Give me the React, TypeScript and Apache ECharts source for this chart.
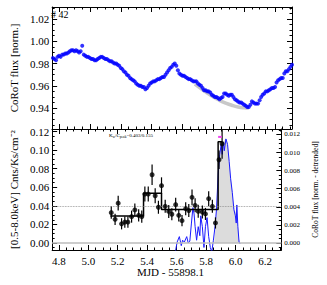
import React, { useEffect, useRef } from "react";
import * as echarts from "echarts";

// ---------- axis ranges / ticks ----------
const X_MIN = 4.755;
const X_MAX = 6.31;
const xMajor = [4.8, 5.0, 5.2, 5.4, 5.6, 5.8, 6.0, 6.2];
const yTopMajor = [0.94, 0.96, 0.98, 1.0, 1.02];
const yBotMajor = [0, 0.02, 0.04, 0.06, 0.08, 0.1, 0.12];
const yRightMajor = [0, 0.002, 0.004, 0.006, 0.008, 0.01, 0.012];

// ---------- top panel: CoRoT light curve (cadence start/step in MJD-55898.1) ----------
const topT0 = 4.76;
const topStep = 0.01;
const topFlux = [
  0.985, 0.984, 0.983, 0.986, 0.987, 0.986, 0.988, 0.988, 0.989, 0.989,
  0.990, 0.991, 0.992, 0.992, 0.991, 0.992, 0.991, 0.990, 0.991, 0.996,
  0.988, 0.987, 0.986, 0.986, 0.985, 0.984, 0.984, 0.983, 0.983, 0.984,
  0.985, 0.986, 0.986, 0.985, 0.984, 0.984, 0.983, 0.982, 0.982, 0.981,
  0.980, 0.980, 0.979, 0.978, 0.976, 0.975, 0.973, 0.972, 0.970, 0.969,
  0.967, 0.966, 0.965, 0.964, 0.962, 0.961, 0.960, 0.960, 0.959, 0.959,
  0.957, 0.958, 0.960, 0.962, 0.963, 0.964, 0.964, 0.965, 0.966, 0.966,
  0.967, 0.968, 0.968, 0.970, 0.972, 0.974, 0.976, 0.977, 0.979, 0.980,
  0.978, 0.974, 0.971, 0.970, 0.969, 0.969, 0.968, 0.967, 0.966, 0.966,
  0.965, 0.964, 0.964, 0.964, 0.962, 0.961, 0.960, 0.958, 0.956, 0.956,
  0.955, 0.955, 0.954, 0.952, 0.951, 0.950, 0.950, 0.949, 0.948, 0.949,
  0.950, 0.953, 0.953, 0.952, 0.951, 0.952, 0.952, 0.950, 0.948, 0.947,
  0.946, 0.945, 0.945, 0.944, 0.943, 0.942, 0.941, 0.941, 0.943, 0.946,
  0.945, 0.944, 0.944, 0.944, 0.947, 0.950, 0.952, 0.953, 0.955, 0.955,
  0.956, 0.957, 0.958, 0.958, 0.959, 0.963, 0.965, 0.966, 0.967, 0.967,
  0.971, 0.973, 0.973, 0.975, 0.977, 0.979,
];
// grey trend (baseline) under the flare
const trendX = [5.68, 5.72, 5.76, 5.8, 5.84, 5.88, 5.92, 5.96, 6.0, 6.03];
const trendY = [0.9615, 0.9575, 0.9535, 0.95, 0.947, 0.9445, 0.9425, 0.941, 0.9402, 0.94];

// ---------- bottom panel: X-ray light curve ----------
const xrayX = [5.156, 5.182, 5.203, 5.226, 5.248, 5.269, 5.294, 5.316, 5.342, 5.363,
  5.384, 5.407, 5.433, 5.454, 5.476, 5.497, 5.522, 5.546, 5.567, 5.593,
  5.614, 5.636, 5.661, 5.682, 5.704, 5.725, 5.746, 5.774, 5.795, 5.817,
  5.842, 5.863, 5.887, 5.908];
const xrayRate = [0.0327, 0.0255, 0.0429, 0.0207, 0.0225, 0.0225, 0.0284, 0.0356, 0.0298, 0.0284,
  0.0527, 0.0527, 0.0735, 0.0509, 0.0385, 0.0617, 0.0395, 0.034, 0.031, 0.0413,
  0.0298, 0.0241, 0.037, 0.0349, 0.0492, 0.0406, 0.0342, 0.0334, 0.0313, 0.0477,
  0.0395, 0.0216, 0.0896, 0.1068];
const xrayErr = [0.0065, 0.006, 0.008, 0.006, 0.006, 0.006, 0.0065, 0.007, 0.0065, 0.0065,
  0.008, 0.008, 0.011, 0.008, 0.007, 0.009, 0.007, 0.007, 0.0065, 0.0075,
  0.0065, 0.006, 0.007, 0.007, 0.0085, 0.0075, 0.007, 0.007, 0.0065, 0.008,
  0.007, 0.006, 0.01, 0.016];
// Bayesian-block style step function: [start, end, rate]
const blocks = [
  [5.15, 5.375, 0.029],
  [5.375, 5.497, 0.0535],
  [5.497, 5.881, 0.036],
  [5.881, 5.909, 0.109],
];
// CoRoT detrended flux (right axis)
const detX = [5.585, 5.603, 5.618, 5.631, 5.64, 5.652, 5.668, 5.678, 5.689, 5.7,
  5.71, 5.718, 5.725, 5.735, 5.746, 5.757, 5.763, 5.774, 5.785, 5.795,
  5.806, 5.817, 5.828, 5.838, 5.849, 5.86, 5.87, 5.881, 5.892, 5.902,
  5.909, 5.917, 5.923, 5.934, 5.945, 5.956, 5.966, 5.977, 5.988, 5.998,
  6.004, 6.008, 6.015, 6.023, 6.03];
const detY = [-0.0015, 0.0001, 0.0007, -0.0003, 0.0003, 0.0001, 0.0007, 0.0, 0.0002, 0.0022,
  0.0039, 0.0032, 0.0018, 0.0003, 0.0018, 0.0008, 0.003, 0.0018, -0.0005, 0.0018,
  0.0028, 0.0007, -0.0005, -0.001, 0.0003, 0.0018, 0.0037, 0.0075, 0.0098, 0.0109,
  0.0098, 0.0111, 0.0102, 0.0115, 0.0109, 0.009, 0.0071, 0.0056, 0.0037, 0.003,
  0.0022, 0.0042, 0.0018, 0.0001, -0.0001];
// flare area (grey fill)
const flareX = [5.855, 5.87, 5.881, 5.892, 5.902, 5.913, 5.923, 5.934, 5.945, 5.956,
  5.966, 5.977, 5.988, 5.998, 6.008, 6.015, 6.023, 6.03];
const flareY = [0.0, 0.0035, 0.0078, 0.01, 0.0111, 0.0112, 0.0113, 0.0116, 0.011, 0.0092,
  0.0073, 0.0057, 0.004, 0.0033, 0.004, 0.002, 0.0004, 0.0];
const peakMarkX = [5.881, 5.906];
const peakMarkY = 0.1142;
const thresholdRate = 0.039;

const FONT = '"Liberation Serif", "Times New Roman", serif';

function range(a: number, b: number, step: number) {
  const out: number[] = [];
  const n = Math.round((b - a) / step);
  for (let i = 0; i <= n; i++) out.push(+(a + i * step).toFixed(6));
  return out;
}
const xMinor = range(4.8, 6.3, 0.05);
const yTopMinor = range(0.925, 1.03, 0.005);
const yBotMinor = range(-0.005, 0.12, 0.005);
const yRightMinor = range(-0.0005, 0.0125, 0.0005);

function xAx(grid: number, pos: string, minor: boolean, labels: boolean, extra: any = {}) {
  const vals = minor ? xMinor : xMajor;
  return {
    type: "value", gridIndex: grid, position: pos, min: X_MIN, max: X_MAX,
    axisLine: { show: !minor, onZero: false, lineStyle: { color: "#000", width: 1 } },
    axisTick: { show: true, inside: true, length: minor ? 2.5 : 5, customValues: vals, lineStyle: { color: "#000", width: 1 } },
    axisLabel: { show: labels, customValues: vals, formatter: (v: number) => v.toFixed(1), fontFamily: FONT, fontSize: 11, color: "#000", margin: 5 },
    splitLine: { show: false },
    ...extra,
  };
}
function yAx(grid: number, pos: string, min: number, max: number, vals: number[], minor: boolean, labels: boolean, dec: number, fs: number, extra: any = {}) {
  return {
    type: "value", gridIndex: grid, position: pos, min, max,
    axisLine: { show: !minor, onZero: false, lineStyle: { color: "#000", width: 1 } },
    axisTick: { show: true, inside: true, length: minor ? 2.5 : 5, customValues: vals, lineStyle: { color: "#000", width: 1 } },
    axisLabel: { show: labels, customValues: vals, formatter: (v: number) => v.toFixed(dec), fontFamily: FONT, fontSize: fs, color: "#000", margin: 3 },
    splitLine: { show: false },
    ...extra,
  };
}

const TOP_MIN = 0.9212, TOP_MAX = 1.0308;
const BOT_MIN = -0.0075, BOT_MAX = 0.1227;
const R_MIN = -0.00078, R_MAX = 0.0126;

const option: any = {
  animation: false,
  backgroundColor: "#fff",
  grid: [
    { left: 49, top: 7, width: 243, height: 122 },
    { left: 49, top: 129, width: 243, height: 121 },
  ],
  xAxis: [
    xAx(0, "bottom", false, false),
    xAx(0, "bottom", true, false),
    xAx(0, "top", false, false),
    xAx(0, "top", true, false),
    xAx(1, "bottom", false, true),
    xAx(1, "bottom", true, false),
    xAx(1, "top", false, false),
    xAx(1, "top", true, false),
  ],
  yAxis: [
    yAx(0, "left", TOP_MIN, TOP_MAX, yTopMajor, false, true, 2, 11, {
      name: "CoRoT flux [norm.]", nameLocation: "middle", nameGap: 31,
      nameTextStyle: { fontFamily: FONT, fontSize: 11, color: "#000" },
    }),
    yAx(0, "left", TOP_MIN, TOP_MAX, yTopMinor, true, false, 2, 11),
    yAx(0, "right", TOP_MIN, TOP_MAX, yTopMajor, false, false, 2, 11),
    yAx(0, "right", TOP_MIN, TOP_MAX, yTopMinor, true, false, 2, 11),
    yAx(1, "left", BOT_MIN, BOT_MAX, yBotMajor, false, true, 2, 11, {
      name: "[0.5-8.0keV] Cnts/Ks/cm\u207B\u00B2", nameLocation: "middle", nameGap: 31,
      nameTextStyle: { fontFamily: FONT, fontSize: 11, color: "#000" },
    }),
    yAx(1, "left", BOT_MIN, BOT_MAX, yBotMinor, true, false, 2, 11),
    yAx(1, "right", R_MIN, R_MAX, yRightMajor, false, true, 3, 7, {
      name: "CoRoT flux [norm. - detrended]", nameLocation: "middle", nameGap: 21,
      nameTextStyle: { fontFamily: FONT, fontSize: 7.5, color: "#000" },
    }),
    yAx(1, "right", R_MIN, R_MAX, yRightMinor, true, false, 3, 7),
  ],
  graphic: [
    { type: "text", left: 51, top: 9, style: { text: "# 42", font: `10px ${FONT}`, fill: "#000" } },
    {
      type: "text", x: 131, y: 135,
      style: {
        text: "{a|K}{s|w}{a|/C}{s|peak}{a|=0.403/0.155}",
        align: "center", verticalAlign: "middle", fill: "#000",
        rich: {
          a: { fontFamily: FONT, fontSize: 5, fill: "#000" },
          s: { fontFamily: FONT, fontSize: 3.5, fill: "#000", padding: [3, 0, 0, 0] },
        },
      },
    },
    { type: "text", x: 170.5, y: 272, style: { text: "MJD - 55898.1", font: `11px ${FONT}`, fill: "#000", align: "center", verticalAlign: "middle" } },
  ],
  series: [
    {
      type: "line", xAxisIndex: 0, yAxisIndex: 0, smooth: true, symbol: "none",
      data: trendX.map((x, i) => [x, trendY[i]]),
      lineStyle: { color: "#c8c8c8", width: 3.5 }, z: 1,
    },
    {
      type: "scatter", xAxisIndex: 0, yAxisIndex: 0, symbol: "circle", symbolSize: 4,
      data: topFlux.map((v, i) => [+(topT0 + i * topStep).toFixed(3), v]),
      itemStyle: { color: "#0000ff" }, z: 2,
    },
    {
      type: "line", xAxisIndex: 4, yAxisIndex: 6, symbol: "none",
      data: flareX.map((x, i) => [x, flareY[i]]),
      lineStyle: { width: 0, color: "#dcdcdc" }, areaStyle: { color: "#dcdcdc", opacity: 1 }, z: 1,
    },
    {
      type: "line", xAxisIndex: 4, yAxisIndex: 4, symbol: "none",
      data: blocks.flatMap((b) => [[b[0], b[2]], [b[1], b[2]]]),
      lineStyle: { color: "#000", width: 1.5 }, z: 4,
      markLine: {
        silent: true, symbol: "none", label: { show: false },
        data: [
          { yAxis: 0, lineStyle: { color: "#bdbdbd", width: 1.5, type: "solid" } },
          { yAxis: thresholdRate, lineStyle: { color: "#888", width: 0.8, type: "dotted" } },
        ],
      },
    },
    {
      type: "line", xAxisIndex: 4, yAxisIndex: 6, symbol: "none",
      data: detX.map((x, i) => [x, detY[i]]),
      lineStyle: { color: "#1a1aff", width: 1 }, z: 3,
    },
    {
      type: "custom", xAxisIndex: 4, yAxisIndex: 4, clip: true, z: 5,
      data: xrayX.map((x, i) => [x, xrayRate[i] - xrayErr[i], xrayRate[i] + xrayErr[i]]),
      encode: { x: 0, y: [1, 2] },
      renderItem: (_p: any, api: any) => {
        const lo = api.coord([api.value(0), api.value(1)]);
        const hi = api.coord([api.value(0), api.value(2)]);
        return { type: "line", shape: { x1: lo[0], y1: lo[1], x2: hi[0], y2: hi[1] }, style: { stroke: "#000", lineWidth: 1.2 } };
      },
    },
    {
      type: "scatter", xAxisIndex: 4, yAxisIndex: 4, symbol: "circle", symbolSize: 5,
      data: xrayX.map((x, i) => [x, xrayRate[i]]),
      itemStyle: { color: "#000" }, z: 6,
    },
    {
      type: "line", xAxisIndex: 4, yAxisIndex: 4, symbol: "none",
      data: peakMarkX.map((x) => [x, peakMarkY]),
      lineStyle: { color: "#ee44ee", width: 2 }, z: 6,
    },
  ],
};

export default function App() {
  const ref = useRef<HTMLDivElement>(null);
  useEffect(() => {
    if (!ref.current) return;
    const chart = echarts.init(ref.current, null, { renderer: "svg" });
    chart.setOption(option);
    return () => chart.dispose();
  }, []);
  return <div ref={ref} style={{ position: "fixed", left: 0, top: 0, width: 327, height: 285, background: "#fff" }} />;
}
